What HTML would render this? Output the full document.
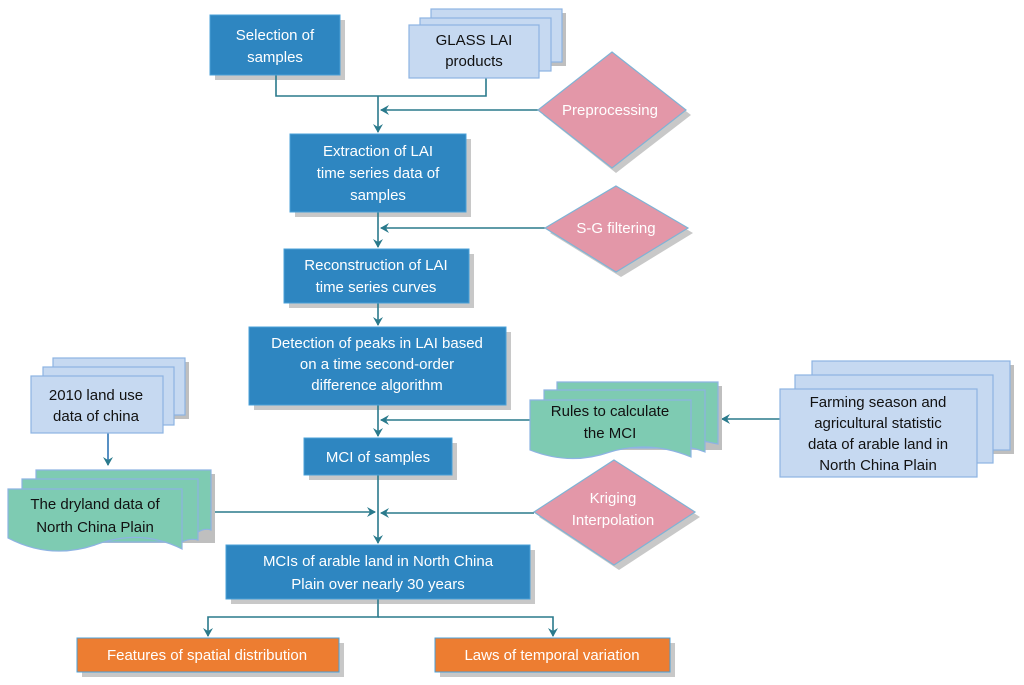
<!DOCTYPE html>
<html><head><meta charset="utf-8"><style>
html,body{margin:0;padding:0;background:#fff;}
svg{display:block;}
text{font-family:"Liberation Sans",sans-serif;font-size:15px;}
</style></head><body>
<svg width="1024" height="685" viewBox="0 0 1024 685" xmlns="http://www.w3.org/2000/svg">
<defs>
<marker id="ah" markerWidth="10" markerHeight="10" refX="8" refY="5" orient="auto" markerUnits="userSpaceOnUse">
<path d="M0,0 L9,5 L0,10 L3,5 Z" fill="#2a7a8c"/></marker>
</defs>
<g fill="#c8c8c8">
<rect x="215" y="20" width="130" height="60"/>
<rect x="295" y="139" width="176" height="78"/>
<rect x="289" y="254" width="185" height="54"/>
<rect x="254" y="332" width="257" height="78"/>
<rect x="309" y="443" width="148" height="37"/>
<rect x="231" y="550" width="304" height="54"/>
<rect x="82" y="643" width="262" height="34"/>
<rect x="440" y="643" width="235" height="34"/>
<polygon points="616,57 691,115 616,173 543,115"/>
<polygon points="621,191 693,233 621,277 550,233"/>
<polygon points="619,465 700,517 619,570 539,517"/>
</g>
<!-- connectors -->
<g stroke="#2a7a8c" stroke-width="1.6" fill="none">
<polyline points="276,75 276,96 486,96 486,78"/>
<line x1="378" y1="96" x2="378" y2="132" marker-end="url(#ah)"/>
<line x1="538" y1="110" x2="381" y2="110" marker-end="url(#ah)"/>
<line x1="378" y1="212" x2="378" y2="247" marker-end="url(#ah)"/>
<line x1="545" y1="228" x2="381" y2="228" marker-end="url(#ah)"/>
<line x1="378" y1="303" x2="378" y2="325" marker-end="url(#ah)"/>
<line x1="378" y1="405" x2="378" y2="436" marker-end="url(#ah)"/>
<line x1="530" y1="420" x2="381" y2="420" marker-end="url(#ah)"/>
<line x1="780" y1="419" x2="722" y2="419" marker-end="url(#ah)"/>
<line x1="378" y1="475" x2="378" y2="543" marker-end="url(#ah)"/>
<line x1="211" y1="512" x2="375" y2="512" marker-end="url(#ah)"/>
<line x1="534" y1="513" x2="381" y2="513" marker-end="url(#ah)"/>
<polyline points="378,599 378,617 208,617 208,636" marker-end="url(#ah)"/>
<polyline points="378,617 553,617 553,636" marker-end="url(#ah)"/>
<line x1="108" y1="433" x2="108" y2="465" stroke="#2e75b6" marker-end="url(#ah)"/>
</g>
<!-- blue boxes -->
<g fill="#2e86c1" stroke="#4aa0d8" stroke-width="1">
<rect x="210" y="15" width="130" height="60"/>
<rect x="290" y="134" width="176" height="78"/>
<rect x="284" y="249" width="185" height="54"/>
<rect x="249" y="327" width="257" height="78"/>
<rect x="304" y="438" width="148" height="37"/>
<rect x="226" y="545" width="304" height="54"/>
</g>
<g fill="#fff" text-anchor="middle">
<text x="275" y="40">Selection  of</text><text x="275" y="62">samples</text>
<text x="378" y="156">Extraction  of LAI</text><text x="378" y="178">time  series data  of</text><text x="378" y="200">samples</text>
<text x="376" y="270">Reconstruction  of LAI</text><text x="376" y="292">time  series curves</text>
<text x="377" y="348">Detection of peaks in LAI based</text><text x="377" y="369">on a time second-order</text><text x="377" y="390">difference algorithm</text>
<text x="378" y="462">MCI of  samples</text>
<text x="378" y="566">MCIs of  arable  land  in  North  China</text><text x="378" y="589">Plain  over  nearly  30  years</text>
</g>
<!-- light blue stacks -->
<g fill="#c6d9f1" stroke="#8db3e2" stroke-width="1.2">
<rect x="435" y="13" width="131" height="53" fill="#bfbfbf" stroke="none"/>
<rect x="431" y="9" width="131" height="53"/>
<rect x="420" y="18" width="131" height="53"/>
<rect x="409" y="25" width="130" height="53"/>
<rect x="57" y="362" width="132" height="57" fill="#bfbfbf" stroke="none"/>
<rect x="53" y="358" width="132" height="57"/>
<rect x="43" y="367" width="131" height="58"/>
<rect x="31" y="376" width="132" height="57"/>
<rect x="816" y="365" width="198" height="89" fill="#bfbfbf" stroke="none"/>
<rect x="812" y="361" width="198" height="89"/>
<rect x="795" y="375" width="198" height="88"/>
<rect x="780" y="389" width="197" height="88"/>
</g>
<g fill="#111" text-anchor="middle">
<text x="474" y="45">GLASS LAI</text><text x="474" y="66">products</text>
<text x="96" y="400">2010 land use</text><text x="96" y="421">data of china</text>
<text x="878" y="407">Farming season and</text><text x="878" y="428">agricultural statistic</text><text x="878" y="449">data of arable land in</text><text x="878" y="470">North China Plain</text>
</g>
<!-- green docs -->
<g fill="#7ecbb2" stroke="#8db3e2" stroke-width="1.2">
<path d="M561,386 H722 V450 L561,450 Z" fill="#bfbfbf" stroke="none"/>
<path d="M557,382 H718 V444 Q690,438 680,440 L557,440 Z"/>
<path d="M544,390 H705 V452 Q690,446 680,448 L544,448 Z"/>
<path d="M530,400 H691 V457 Q650,440 610,452 Q570,466 530,450 Z"/>
<path d="M40,474 H215 V543 L40,543 Z" fill="#bfbfbf" stroke="none"/>
<path d="M36,470 H211 V530 Q205,528 198,532 L36,532 Z"/>
<path d="M22,479 H198 V540 Q190,538 182,542 L22,542 Z"/>
<path d="M8,489 H182 V549 Q140,528 95,545 Q50,560 8,538 Z"/>
</g>
<g fill="#111" text-anchor="middle">
<text x="610" y="416">Rules  to  calculate</text><text x="610" y="438">the  MCI</text>
<text x="95" y="509">The  dryland  data  of</text><text x="95" y="532">North  China  Plain</text>
</g>
<!-- diamonds -->
<g fill="#e397a8" stroke="#7fb3d5" stroke-width="1.2">
<polygon points="612,52 686,110 612,168 538,110"/>
<polygon points="616,186 688,228 616,272 545,228"/>
<polygon points="614,460 695,512 614,565 534,512"/>
</g>
<g fill="#fff" text-anchor="middle">
<text x="610" y="115">Preprocessing</text>
<text x="616" y="233">S-G filtering</text>
<text x="613" y="503">Kriging</text><text x="613" y="525">Interpolation</text>
</g>
<!-- orange -->
<g fill="#ed7d31" stroke="#4aa0d8" stroke-width="1">
<rect x="77" y="638" width="262" height="34"/>
<rect x="435" y="638" width="235" height="34"/>
</g>
<g fill="#fff" text-anchor="middle">
<text x="207" y="660">Features  of  spatial  distribution</text>
<text x="552" y="660">Laws  of  temporal  variation</text>
</g>
</svg>
</body></html>
